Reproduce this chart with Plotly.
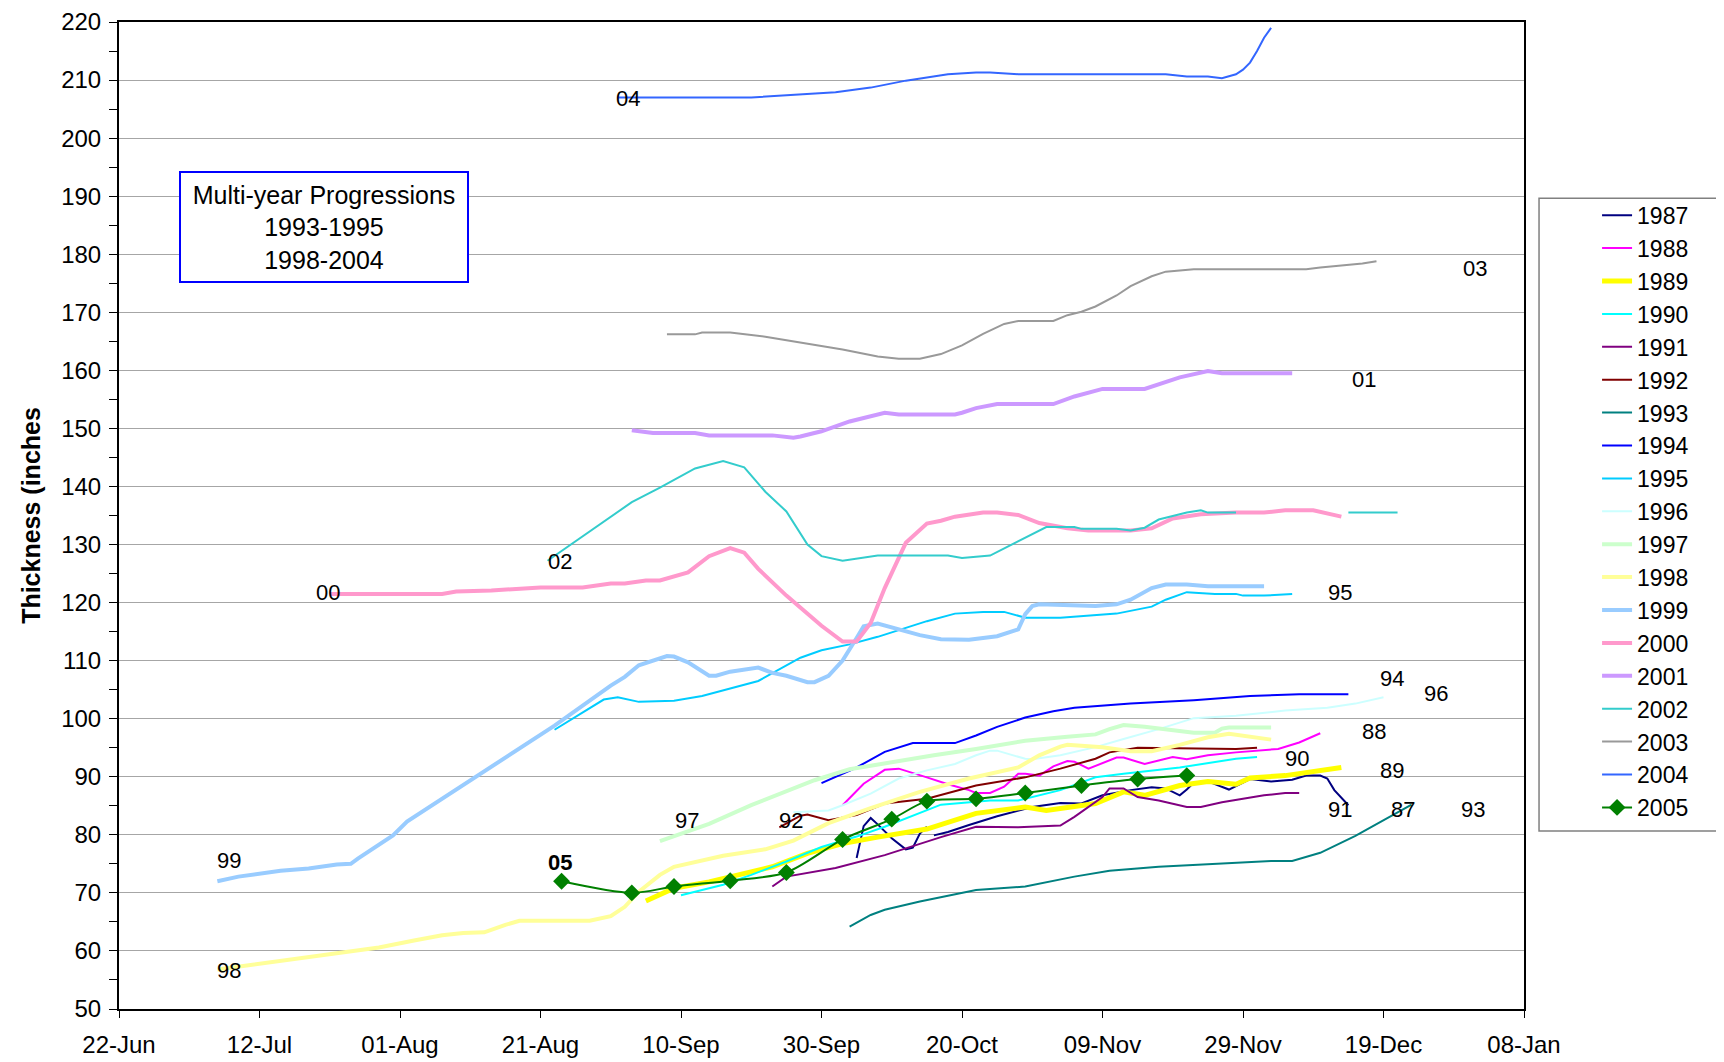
import pandas as pd
import plotly.graph_objects as go

YEAR = 2005
X_START = "2005-06-22"
X_END = "2006-01-08"

# ---------------- data (date "MM-DD", thickness in inches) ----------------
y1987 = [("10-05", 76.0), ("10-06", 81.5), ("10-07", 82.9), ("10-08", 81.8), ("10-10", 79.4),
         ("10-12", 77.5), ("10-13", 77.8), ("10-14", 80.2), ("10-15", 81.4), (None, None),
         ("10-16", 79.9), ("10-18", 80.5), ("10-21", 81.7), ("10-25", 83.2), ("10-30", 84.8),
         ("11-03", 85.5), ("11-06", 85.4), ("11-09", 86.8), ("11-13", 87.7), ("11-16", 88.2),
         ("11-18", 88.0), ("11-20", 86.8), ("11-21", 87.8), ("11-22", 89.0), ("11-24", 89.2),
         ("11-27", 87.8), ("11-30", 89.6), ("12-03", 89.2), ("12-06", 89.5), ("12-08", 90.2),
         ("12-10", 90.2), ("12-11", 89.7), ("12-12", 87.7), ("12-14", 85.1)]
y1988 = [("10-03", 85.1), ("10-06", 88.8), ("10-09", 91.2), ("10-11", 91.4), ("10-15", 89.9),
         ("10-18", 88.7), ("10-21", 87.7), ("10-22", 87.2), ("10-24", 87.2), ("10-26", 88.3),
         ("10-28", 90.5), ("10-29", 90.5), ("10-31", 90.2), ("11-02", 91.8), ("11-04", 92.7),
         ("11-05", 92.6), ("11-07", 91.4), ("11-11", 93.3), ("11-12", 93.3), ("11-15", 92.2),
         ("11-17", 92.8), ("11-19", 93.4), ("11-21", 93.0), ("11-24", 93.7), ("11-28", 94.2),
         ("12-04", 94.8), ("12-07", 95.9), ("12-10", 97.5)]
y1989 = [("09-05", 68.6), ("09-09", 70.8), ("09-14", 71.9), ("09-18", 73.1), ("09-23", 74.5),
         ("09-28", 76.8), ("10-03", 78.5), ("10-08", 79.6), ("10-15", 81.0), ("10-22", 83.7),
         ("10-29", 84.8), ("11-01", 84.2), ("11-08", 85.4), ("11-12", 87.4), ("11-15", 86.8),
         ("11-20", 88.5), ("11-24", 89.2), ("11-28", 88.7), ("11-30", 89.8), ("12-05", 90.2),
         ("12-09", 90.8), ("12-13", 91.6)]
y1990 = [("09-10", 69.6), ("09-16", 71.4), ("09-20", 73.1), ("09-25", 75.4), ("09-30", 77.9),
         ("10-05", 79.7), ("10-09", 81.4), ("10-13", 83.3), ("10-17", 85.2), ("10-24", 85.9),
         ("10-28", 85.9), ("11-03", 87.7), ("11-08", 89.9), ("11-12", 90.5), ("11-20", 91.6),
         ("11-28", 93.1), ("12-01", 93.4)]
y1991 = [("09-23", 71.1), ("09-25", 72.8), ("10-02", 74.3), ("10-09", 76.5), ("10-17", 79.6),
         ("10-22", 81.4), ("10-28", 81.3), ("11-03", 81.6), ("11-05", 83.1), ("11-09", 86.5),
         ("11-10", 88.0), ("11-12", 88.0), ("11-14", 86.5), ("11-17", 85.9), ("11-21", 84.8),
         ("11-23", 84.8), ("11-26", 85.6), ("11-29", 86.2), ("12-02", 86.8), ("12-05", 87.2),
         ("12-07", 87.2)]
y1992 = [("09-24", 81.3), ("09-27", 83.3), ("09-28", 83.5), ("10-01", 82.5), ("10-05", 83.4),
         ("10-09", 85.4), ("10-15", 86.2), ("10-22", 88.5), ("10-29", 89.9), ("11-03", 91.4),
         ("11-08", 93.1), ("11-10", 94.2), ("11-14", 95.0), ("11-28", 94.8), ("12-01", 95.0)]
y1993 = [("10-04", 64.2), ("10-06", 65.6), ("10-07", 66.2), ("10-09", 67.1), ("10-14", 68.5),
         ("10-22", 70.5), ("10-29", 71.1), ("11-05", 72.8), ("11-10", 73.8), ("11-17", 74.5),
         ("11-22", 74.8), ("11-29", 75.2), ("12-03", 75.5), ("12-06", 75.5), ("12-10", 76.9),
         ("12-15", 79.8), ("12-19", 82.5), ("12-23", 85.2)]
y1994 = [("09-30", 88.9), ("10-05", 91.6), ("10-09", 94.3), ("10-11", 95.1), ("10-13", 95.8),
         ("10-19", 95.8), ("10-22", 97.1), ("10-25", 98.6), ("10-29", 100.2), ("11-02", 101.3),
         ("11-05", 101.9), ("11-13", 102.6), ("11-22", 103.2), ("11-30", 103.9), ("12-07", 104.2),
         ("12-14", 104.2)]
y1995 = [("08-23", 98.1), ("08-27", 101.1), ("08-30", 103.3), ("09-01", 103.7), ("09-04", 102.9),
         ("09-09", 103.1), ("09-13", 103.9), ("09-21", 106.5), ("09-24", 108.5), ("09-27", 110.5),
         ("09-30", 111.8), ("10-04", 112.8), ("10-08", 114.1), ("10-11", 115.3), ("10-15", 116.8),
         ("10-19", 118.1), ("10-23", 118.4), ("10-26", 118.4), ("10-29", 117.4), ("11-03", 117.4),
         ("11-07", 117.8), ("11-11", 118.1), ("11-16", 119.3), ("11-18", 120.5), ("11-21", 121.8),
         ("11-25", 121.5), ("11-28", 121.5), ("11-29", 121.2), ("12-02", 121.2), ("12-06", 121.5)]
y1996 = [("09-26", 83.9), ("10-01", 84.2), ("10-03", 85.1), ("10-07", 87.1), ("10-11", 89.7),
         ("10-15", 91.1), ("10-19", 92.2), ("10-22", 93.7), ("10-24", 94.5), ("10-25", 94.5),
         ("10-29", 93.1), ("10-30", 93.0), ("11-03", 93.7), ("11-08", 95.1), ("11-12", 96.5),
         ("11-17", 98.2), ("11-22", 100.1), ("11-28", 100.5), ("12-05", 101.4), ("12-11", 101.9),
         ("12-15", 102.6), ("12-19", 103.7)]
y1997 = [("09-07", 78.9), ("09-14", 81.9), ("09-20", 85.1), ("09-29", 89.4), ("10-04", 91.3),
         ("10-11", 92.8), ("10-16", 93.7), ("10-22", 94.8), ("10-29", 96.2), ("11-04", 96.9),
         ("11-08", 97.3), ("11-10", 98.2), ("11-12", 98.9), ("11-15", 98.6), ("11-22", 97.6),
         ("11-25", 97.6), ("11-26", 98.3), ("11-27", 98.5), ("12-03", 98.5)]
y1998 = [("07-06", 56.8), ("07-12", 57.8), ("07-18", 58.9), ("07-25", 60.0), ("07-29", 60.6),
         ("08-03", 61.8), ("08-07", 62.7), ("08-10", 63.1), ("08-13", 63.2), ("08-16", 64.5),
         ("08-18", 65.2), ("08-28", 65.2), ("08-31", 66.0), ("09-02", 67.6), ("09-04", 70.2),
         ("09-07", 73.1), ("09-09", 74.5), ("09-16", 76.4), ("09-22", 77.5), ("09-26", 79.0),
         ("10-01", 82.0), ("10-07", 84.6), ("10-14", 87.4), ("10-21", 89.7), ("10-28", 91.6),
         ("10-31", 93.7), ("11-03", 95.2), ("11-04", 95.5), ("11-09", 95.1), ("11-13", 94.4),
         ("11-16", 94.4), ("11-20", 95.5), ("11-24", 96.8), ("11-27", 97.4), ("11-30", 96.9),
         ("12-03", 96.4)]
y1999 = [("07-06", 72.0), ("07-09", 72.8), ("07-15", 73.8), ("07-19", 74.2), ("07-23", 74.9),
         ("07-25", 75.0), ("07-26", 75.9), ("07-29", 78.3), ("07-31", 79.9), ("08-02", 82.3),
         ("08-23", 98.8), ("08-31", 105.7), ("09-02", 107.2), ("09-04", 109.2), ("09-06", 110.0),
         ("09-08", 110.8), ("09-09", 110.7), ("09-11", 109.7), ("09-14", 107.4), ("09-15", 107.4),
         ("09-17", 108.1), ("09-21", 108.8), ("09-23", 107.9), ("09-25", 107.4), ("09-28", 106.3),
         ("09-29", 106.3), ("10-01", 107.4), ("10-03", 110.0), ("10-05", 113.9), ("10-06", 115.9),
         ("10-08", 116.4), ("10-10", 115.7), ("10-14", 114.4), ("10-17", 113.7), ("10-21", 113.6),
         ("10-25", 114.2), ("10-28", 115.4), ("10-29", 118.0), ("10-30", 119.4), ("10-31", 119.7),
         ("11-08", 119.4), ("11-11", 119.7), ("11-13", 120.5), ("11-16", 122.5), ("11-18", 123.1),
         ("11-21", 123.1), ("11-24", 122.8), ("12-02", 122.8)]
y2000 = [("07-22", 121.5), ("08-07", 121.5), ("08-09", 121.9), ("08-14", 122.1), ("08-21", 122.6),
         ("08-27", 122.6), ("08-31", 123.3), ("09-02", 123.3), ("09-05", 123.8), ("09-07", 123.8),
         ("09-11", 125.2), ("09-14", 128.0), ("09-17", 129.4), ("09-19", 128.6), ("09-21", 125.8),
         ("09-25", 121.2), ("09-30", 116.0), ("10-03", 113.3), ("10-05", 113.3), ("10-07", 116.5),
         ("10-09", 122.5), ("10-11", 127.5), ("10-12", 130.3), ("10-15", 133.6), ("10-17", 134.1),
         ("10-19", 134.8), ("10-23", 135.5), ("10-25", 135.5), ("10-28", 135.1), ("10-31", 133.7),
         ("11-04", 132.8), ("11-07", 132.4), ("11-13", 132.4), ("11-16", 132.8), ("11-19", 134.5),
         ("11-23", 135.2), ("11-28", 135.5), ("12-02", 135.5), ("12-05", 135.9), ("12-09", 135.9),
         ("12-13", 134.8)]
y2001 = [("09-03", 149.7), ("09-06", 149.2), ("09-12", 149.2), ("09-14", 148.8), ("09-23", 148.8),
         ("09-26", 148.4), ("09-27", 148.6), ("09-30", 149.5), ("10-04", 151.2), ("10-08", 152.5),
         ("10-09", 152.7), ("10-11", 152.4), ("10-19", 152.4), ("10-20", 152.7), ("10-22", 153.5),
         ("10-25", 154.2), ("11-02", 154.2), ("11-05", 155.5), ("11-09", 156.8), ("11-15", 156.8),
         ("11-20", 158.8), ("11-24", 159.9), ("11-26", 159.5), ("12-06", 159.5)]
y2002 = [("08-22", 127.2), ("09-03", 137.3), ("09-07", 139.8), ("09-12", 143.1), ("09-16", 144.4),
         ("09-19", 143.3), ("09-22", 139.1), ("09-25", 135.7), ("09-28", 130.0), ("09-30", 128.0),
         ("10-03", 127.2), ("10-08", 128.1), ("10-18", 128.1), ("10-20", 127.7), ("10-24", 128.1),
         ("10-25", 128.7), ("10-30", 131.8), ("11-01", 133.0), ("11-05", 133.0), ("11-06", 132.7),
         ("11-11", 132.7), ("11-13", 132.4), ("11-15", 132.9), ("11-17", 134.3), ("11-21", 135.5),
         ("11-23", 135.9), ("11-24", 135.5), ("11-28", 135.5), (None, None), ("12-14", 135.5),
         ("12-21", 135.5)]
y2003 = [("09-08", 166.2), ("09-12", 166.2), ("09-13", 166.5), ("09-17", 166.5), ("09-22", 165.8),
         ("09-28", 164.6), ("10-03", 163.6), ("10-08", 162.4), ("10-11", 162.0), ("10-14", 162.0),
         ("10-17", 162.8), ("10-20", 164.3), ("10-23", 166.3), ("10-26", 168.0), ("10-28", 168.5),
         ("11-02", 168.5), ("11-04", 169.5), ("11-06", 170.1), ("11-08", 171.0), ("11-11", 172.9),
         ("11-13", 174.5), ("11-16", 176.2), ("11-18", 177.0), ("11-22", 177.4), ("12-08", 177.4),
         ("12-10", 177.7), ("12-13", 178.0), ("12-16", 178.4), ("12-18", 178.8)]
y2004 = [("09-01", 207.0), ("09-20", 207.0), ("10-02", 207.9), ("10-07", 208.7), ("10-12", 209.9),
         ("10-18", 211.0), ("10-22", 211.3), ("10-24", 211.3), ("10-28", 211.0), ("11-18", 211.0),
         ("11-21", 210.6), ("11-24", 210.6), ("11-26", 210.3), ("11-28", 211.0), ("11-29", 211.8),
         ("11-30", 213.0), ("12-01", 215.0), ("12-02", 217.3), ("12-03", 219.0)]
y2005 = [("08-24", 72.0), ("09-03", 70.0), ("09-09", 71.1), ("09-17", 72.1), ("09-25", 73.5),
         ("10-03", 79.2), ("10-10", 82.7), ("10-15", 85.8), ("10-22", 86.2), ("10-29", 87.2),
         ("11-06", 88.5), ("11-14", 89.6), ("11-21", 90.2)]

series_names = ["1987", "1988", "1989", "1990", "1991", "1992", "1993", "1994", "1995", "1996",
                "1997", "1998", "1999", "2000", "2001", "2002", "2003", "2004", "2005"]
series_data = [y1987, y1988, y1989, y1990, y1991, y1992, y1993, y1994, y1995, y1996,
               y1997, y1998, y1999, y2000, y2001, y2002, y2003, y2004, y2005]

# end-of-line labels: text, days after 22-Jun, thickness
label_text = ["04", "03", "01", "02", "00", "95", "94", "96", "88", "90", "89",
              "91", "87", "93", "97", "92", "99", "05", "98"]
label_day = [72.5, 193.0, 177.2, 62.8, 29.7, 173.75, 181.25, 187.5, 178.6, 167.7, 181.25,
             173.75, 182.8, 192.8, 80.9, 95.6, 15.6, 62.8, 15.6]
label_val = [206.8, 177.5, 158.4, 127.1, 121.8, 121.8, 106.9, 104.4, 97.8, 93.1, 91.0,
             84.4, 84.4, 84.4, 82.5, 82.5, 75.5, 75.3, 56.6]

# ---------------- styles ----------------
colors = ["#000080", "#FF00FF", "#FFFF00", "#00FFFF", "#800080", "#800000", "#008080",
          "#0000FF", "#00CCFF", "#CCFFFF", "#CCFFCC", "#FFFF99", "#99CCFF", "#FF99CC",
          "#CC99FF", "#33CCCC", "#999999", "#3366FF", "#008000"]
widths = [2, 2, 5, 2, 2, 2, 2, 2, 2, 2, 4, 4, 4, 4, 4, 2, 2, 2, 2]

FONT = "Liberation Sans, Arial, sans-serif"


def unpack(points):
    xs, ys = [], []
    for md, v in points:
        if md is None:
            xs.append(None)
            ys.append(None)
        else:
            xs.append(f"{YEAR}-{md}")
            ys.append(v)
    return xs, ys


fig = go.Figure()
for name, pts, col, w in zip(series_names, series_data, colors, widths):
    xs, ys = unpack(pts)
    if name == "2005":
        fig.add_trace(go.Scatter(
            x=xs, y=ys, name=name, mode="lines+markers",
            line=dict(color=col, width=w, shape="spline", smoothing=0.8),
            marker=dict(symbol="diamond", size=13, color=col),
        ))
    else:
        fig.add_trace(go.Scatter(
            x=xs, y=ys, name=name, mode="lines",
            line=dict(color=col, width=w),
        ))

base = pd.Timestamp(X_START)
annotations = []
for t, d, v in zip(label_text, label_day, label_val):
    xpos = (base + pd.Timedelta(days=d)).strftime("%Y-%m-%d %H:%M:%S")
    annotations.append(dict(
        x=xpos, y=v, xref="x", yref="y", text=("<b>%s</b>" % t) if t == "05" else t,
        showarrow=False, xanchor="center", yanchor="middle",
        font=dict(family=FONT, size=22, color="black"),
    ))

annotations.append(dict(
    x=0.1461, y=0.7926, xref="paper", yref="paper",
    text="Multi-year Progressions<br>1993-1995<br>1998-2004",
    showarrow=False, xanchor="center", yanchor="middle", align="center",
    font=dict(family=FONT, size=25, color="black"),
    bordercolor="#0000FF", borderwidth=2, borderpad=5, bgcolor="white",
    width=276, height=98,
))

# The page body adds an 8 px offset, so the figure is 8 px smaller on each side.
fig.update_layout(
    width=1716, height=1054,
    margin=dict(l=111, r=200, t=14, b=53, autoexpand=False),
    paper_bgcolor="white", plot_bgcolor="white",
    font=dict(family=FONT, size=24, color="black"),
    showlegend=True,
    legend=dict(
        x=1.052, y=0.826, xanchor="left", yanchor="top",
        font=dict(family=FONT, size=23, color="black"),
        bgcolor="rgba(0,0,0,0)", borderwidth=0,
        traceorder="normal", itemwidth=30,
    ),
    annotations=annotations,
    shapes=[dict(type="rect", xref="paper", yref="paper",
                 x0=1.0107, x1=1.1381, y0=0.1803, y1=0.8215,
                 line=dict(color="#808080", width=1.5), fillcolor="rgba(0,0,0,0)", layer="below")],
)

fig.update_xaxes(
    type="date", range=[X_START, X_END], automargin=False,
    tick0=X_START, dtick=20 * 86400000, tickformat="%d-%b",
    ticks="outside", ticklen=7, tickwidth=1, tickcolor="black",
    showline=True, linecolor="black", linewidth=2, mirror=True,
    showgrid=False, zeroline=False,
    tickfont=dict(family=FONT, size=24, color="black"),
    ticklabelstandoff=6, ticklabeloverflow="allow",
)
fig.update_yaxes(
    range=[50, 220], dtick=10, tick0=50, automargin=False,
    ticks="outside", ticklen=8, tickwidth=1, tickcolor="black",
    minor=dict(dtick=5, ticks="outside", ticklen=8, tickcolor="black", showgrid=False),
    showline=True, linecolor="black", linewidth=2, mirror=True,
    showgrid=True, gridcolor="#A6A6A6", gridwidth=1, zeroline=False,
    tickfont=dict(family=FONT, size=24, color="black"),
    ticklabelstandoff=3, ticklabeloverflow="allow",
    title=dict(text="<b>Thickness (inches</b>", font=dict(family=FONT, size=25, color="black"),
               standoff=13),
)

fig.write_html("out.html")
